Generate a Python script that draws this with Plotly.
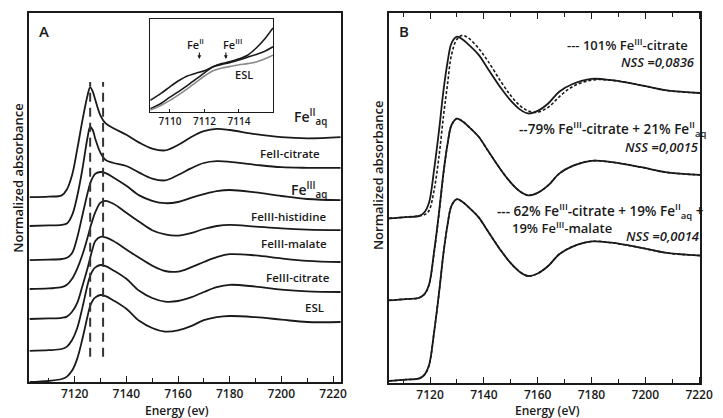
import plotly.graph_objects as go

# ---------------- Panel A : reference spectra (normalized absorbance) ----------------
energy_A = [7102.5, 7110, 7115, 7117, 7119, 7121, 7123, 7125, 7126, 7127, 7128, 7130, 7132,
            7135, 7140, 7145, 7150, 7155, 7160, 7165, 7170, 7175, 7180, 7190, 7200, 7210, 7223]
fe2_aq = [0.0, 0.01, 0.03, 0.13, 0.37, 0.80, 1.28, 1.70, 1.83, 1.76, 1.62, 1.36, 1.23,
          1.15, 1.04, 0.91, 0.81, 0.78, 0.87, 1.00, 1.10, 1.14, 1.12, 1.05, 1.00, 0.98, 1.00]
fe2_citrate = [0.0, 0.01, 0.02, 0.04, 0.18, 0.50, 0.95, 1.48, 1.65, 1.60, 1.45, 1.22, 1.10,
               1.05, 1.00, 0.89, 0.79, 0.76, 0.85, 0.96, 1.05, 1.08, 1.07, 1.02, 0.98, 0.97, 0.97]
fe3_aq = [0.0, 0.01, 0.02, 0.04, 0.12, 0.38, 0.75, 1.12, 1.28, 1.38, 1.44, 1.47, 1.45,
          1.38, 1.24, 1.08, 0.99, 0.95, 0.97, 1.04, 1.10, 1.15, 1.17, 1.13, 1.07, 1.02, 1.00]
fe3_histidine = [0.0, 0.01, 0.03, 0.07, 0.17, 0.34, 0.57, 0.86, 1.02, 1.16, 1.28, 1.44, 1.47,
                 1.42, 1.27, 1.12, 0.98, 0.91, 0.89, 0.93, 1.00, 1.05, 1.07, 1.04, 1.01, 0.99, 0.98]
fe3_malate = [0.0, 0.01, 0.02, 0.04, 0.12, 0.27, 0.55, 0.85, 1.02, 1.18, 1.30, 1.37, 1.36,
              1.30, 1.16, 1.02, 0.89, 0.80, 0.79, 0.86, 0.95, 1.03, 1.08, 1.06, 1.01, 0.97, 0.95]
fe3_citrate = [0.0, 0.01, 0.03, 0.07, 0.18, 0.38, 0.72, 1.10, 1.25, 1.34, 1.39, 1.43, 1.41,
               1.34, 1.20, 1.00, 0.88, 0.82, 0.83, 0.89, 0.98, 1.06, 1.10, 1.07, 1.02, 0.99, 0.98]
esl_A = [-0.02, 0.0, 0.03, 0.07, 0.17, 0.37, 0.70, 1.08, 1.25, 1.34, 1.39, 1.43, 1.41,
         1.34, 1.20, 1.00, 0.88, 0.82, 0.84, 0.91, 1.01, 1.06, 1.08, 1.06, 1.02, 0.98, 0.98]

spectra_A = [fe2_aq, fe2_citrate, fe3_aq, fe3_histidine, fe3_malate, fe3_citrate, esl_A]
labels_A = ["Fe<sup>II</sup><sub>aq</sub>", "FeII-citrate", "Fe<sup>III</sup><sub>aq</sub>",
            "FeIII-histidine", "FeIII-malate", "FeIII-citrate", "ESL"]
offsets_A = [3.08, 2.60, 2.03, 1.55, 1.05, 0.52, 0.02]
edge_marks = [7126, 7131]          # dashed vertical guide lines (eV)
edge_marks_span = [0.42, 5.0]

# ---------------- Inset : pre-edge region ----------------
energy_inset = [7108.86, 7109.5, 7110, 7110.5, 7111, 7111.5, 7112, 7112.5, 7113, 7113.5,
                7114, 7114.5, 7115, 7115.5, 7115.97]
inset_fe2 = [0.029, 0.047, 0.063, 0.078, 0.090, 0.097, 0.103, 0.113, 0.121, 0.126,
             0.133, 0.142, 0.160, 0.183, 0.210]
inset_fe3 = [0.008, 0.022, 0.037, 0.051, 0.066, 0.082, 0.098, 0.113, 0.119, 0.124,
             0.130, 0.137, 0.144, 0.152, 0.163]
inset_esl = [0.005, 0.017, 0.029, 0.043, 0.058, 0.074, 0.090, 0.103, 0.110, 0.114,
             0.118, 0.121, 0.125, 0.133, 0.142]
inset_ticks = [7110, 7112, 7114]

# ---------------- Panel B : ESL and linear combination fits ----------------
energy_B = [7104.7, 7111, 7116, 7118, 7119.6, 7121.5, 7123.3, 7125, 7126.5, 7128, 7130, 7132,
            7134.2, 7138, 7141.5, 7146.3, 7150, 7153.5, 7156.5, 7160, 7164, 7168, 7173, 7180,
            7187.5, 7198.5, 7208, 7220.4]
esl_B = [0.0, 0.01, 0.02, 0.05, 0.12, 0.38, 0.68, 1.00, 1.22, 1.37, 1.42, 1.40,
         1.36, 1.28, 1.17, 1.02, 0.92, 0.85, 0.82, 0.84, 0.90, 0.99, 1.05, 1.09,
         1.08, 1.04, 1.00, 0.98]
fit_1 = [0.0, 0.01, 0.02, 0.03, 0.06, 0.22, 0.48, 0.80, 1.05, 1.28, 1.40, 1.43,
         1.41, 1.33, 1.23, 1.07, 0.96, 0.88, 0.84, 0.83, 0.87, 0.95, 1.03, 1.08,
         1.08, 1.04, 1.00, 0.98]
fit_2 = [0.0, 0.01, 0.02, 0.05, 0.12, 0.37, 0.67, 0.99, 1.22, 1.37, 1.42, 1.40,
         1.36, 1.28, 1.17, 1.02, 0.92, 0.85, 0.82, 0.84, 0.90, 0.99, 1.05, 1.09,
         1.08, 1.04, 1.00, 0.98]
fit_3 = [0.0, 0.01, 0.02, 0.05, 0.12, 0.38, 0.68, 1.00, 1.22, 1.37, 1.42, 1.40,
         1.36, 1.28, 1.17, 1.02, 0.92, 0.85, 0.82, 0.84, 0.90, 0.99, 1.05, 1.09,
         1.08, 1.04, 1.00, 0.98]
fits_B = [fit_1, fit_2, fit_3]
offsets_B = [1.27, 0.63, 0.0]

# ---------------- figure ----------------
W, H = 723, 418
def px(x):
    return x / W
def py(y):
    return 1 - y / H

FONT = "Open Sans, Liberation Sans, Arial, sans-serif"
INK = "#1a1a1a"
WGT = 600
fig = go.Figure()

# Panel A spectra
for spec, off in zip(spectra_A, offsets_A):
    fig.add_trace(go.Scatter(x=energy_A, y=[v + off for v in spec], mode="lines",
                             line=dict(color=INK, width=1.8, shape="spline", smoothing=1.0),
                             xaxis="x", yaxis="y", hoverinfo="skip"))
for e in edge_marks:
    fig.add_trace(go.Scatter(x=[e, e], y=edge_marks_span, mode="lines",
                             line=dict(color="#333333", width=2, dash="9px,6px"),
                             xaxis="x", yaxis="y", hoverinfo="skip"))

# Inset
for spec, col in zip([inset_fe2, inset_fe3, inset_esl], [INK, INK, "#8a8a8a"]):
    fig.add_trace(go.Scatter(x=energy_inset, y=spec, mode="lines",
                             line=dict(color=col, width=1.6, shape="spline", smoothing=0.8),
                             xaxis="x3", yaxis="y3", hoverinfo="skip"))

# Panel B
for off, fit in zip(offsets_B, fits_B):
    fig.add_trace(go.Scatter(x=energy_B, y=[v + off for v in esl_B], mode="lines",
                             line=dict(color=INK, width=1.8, shape="spline", smoothing=1.0),
                             xaxis="x2", yaxis="y2", hoverinfo="skip"))
    fig.add_trace(go.Scatter(x=energy_B, y=[v + off for v in fit], mode="lines",
                             line=dict(color=INK, width=1.6, dash="3px,2px", shape="spline", smoothing=1.0),
                             xaxis="x2", yaxis="y2", hoverinfo="skip"))

tickfont = dict(family=FONT, size=12, color=INK, weight=WGT)
common_x = dict(showgrid=False, zeroline=False, showline=True, linecolor=INK, linewidth=1.6,
                ticks="inside", ticklen=6, tickwidth=1.4, tickcolor=INK, tick0=7120, dtick=20,
                tickfont=tickfont,
                minor=dict(ticks="inside", ticklen=4, tickwidth=1.2, tickcolor=INK, dtick=10, tick0=7110))
common_y = dict(showgrid=False, zeroline=False, showline=True, linecolor=INK, linewidth=1.6,
                mirror=True, showticklabels=False, ticks="")

fig.update_layout(
    width=W, height=H, margin=dict(l=0, r=0, t=0, b=0), autosize=False,
    paper_bgcolor="white", plot_bgcolor="white", showlegend=False,
    xaxis=dict(common_x, domain=[px(30), px(347)], range=[7102.5, 7223], mirror=True, anchor="y"),
    yaxis=dict(common_y, domain=[py(382), py(13)], range=[0, 6.15], anchor="x"),
    xaxis2=dict(common_x, domain=[px(396), px(713)], range=[7104.7, 7220.4], mirror="allticks", anchor="y2"),
    yaxis2=dict(common_y, domain=[py(383), py(13)], range=[-0.016, 2.875], anchor="x2"),
    xaxis3=dict(showgrid=False, zeroline=False, showline=True, linecolor=INK, linewidth=1.4, mirror=True,
                ticks="inside", ticklen=3, tickcolor=INK, tickvals=inset_ticks,
                tickfont=dict(family=FONT, size=10, color=INK, weight=WGT),
                domain=[px(153), px(278)], range=[7108.86, 7115.97], anchor="y3"),
    yaxis3=dict(showgrid=False, zeroline=False, showline=True, linecolor=INK, linewidth=1.4, mirror=True,
                showticklabels=False, ticks="", domain=[py(112), py(19)], range=[0, 0.2325], anchor="x3"),
)

ann = []
def text(x, y, s, size=12, xanchor="center", angle=0, yanchor="middle"):
    ann.append(dict(x=px(x), y=py(y), xref="paper", yref="paper", text=s, showarrow=False,
                    xanchor=xanchor, yanchor=yanchor, textangle=angle,
                    font=dict(family=FONT, size=size, color=INK, weight=WGT)))

# panel labels and axis titles
text(45, 31, "A", size=15)
text(411, 31, "B", size=15)
text(180, 410, "Energy (ev)", size=12)
text(558, 410, "Energy (eV)", size=12)
text(18, 178, "Normalized absorbance", size=13, angle=-90)
text(385, 176, "Normalized absorbance", size=13, angle=-90)

# panel A curve labels
label_pos_A = [(335, 117, 14), (328, 153, 11.5), (335, 190, 14), (335, 216, 11.5),
               (335, 243, 11.5), (338, 277, 11.5), (332, 307, 11.5)]
for lab, (x, y, s) in zip(labels_A, label_pos_A):
    text(x, y, lab, size=s, xanchor="right")

# inset labels
text(199, 44, "Fe<sup>II</sup>", size=11)
text(237, 44, "Fe<sup>III</sup>", size=11)
text(248, 74, "ESL", size=11)
for x in (203, 230):
    ann.append(dict(x=px(x), y=py(59), xref="paper", yref="paper", ax=0, ay=-8,
                    showarrow=True, arrowhead=2, arrowsize=0.7, arrowwidth=1.1, arrowcolor=INK, text=""))

# panel B fit labels
text(703, 44, "--- 101% Fe<sup>III</sup>-citrate", size=13, xanchor="right")
text(710, 62, "<i>NSS =0,0836</i>", size=13, xanchor="right")
text(721, 129, "--79% Fe<sup>III</sup>-citrate + 21% Fe<sup>II</sup><sub>aq</sub>", size=13.5, xanchor="right")
text(714, 147, "<i>NSS =0,0015</i>", size=13, xanchor="right")
text(719, 211, "--- 62% Fe<sup>III</sup>-citrate + 19% Fe<sup>II</sup><sub>aq</sub> +", size=13.5, xanchor="right")
text(519, 228, "19% Fe<sup>III</sup>-malate", size=13, xanchor="left")
text(714, 236, "<i>NSS =0,0014</i>", size=13, xanchor="right")

fig.update_layout(annotations=ann)
fig.write_html("out.html", config={"displayModeBar": False},
               post_script="document.body.style.margin='0';document.body.style.overflow='hidden';")
